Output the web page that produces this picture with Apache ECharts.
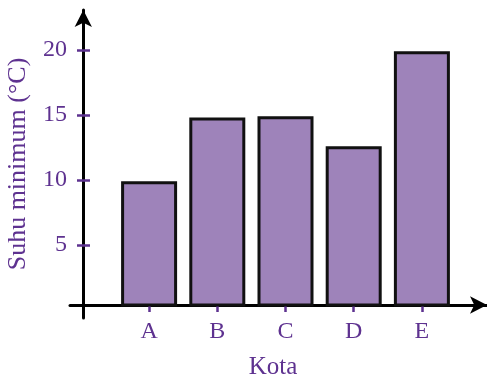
<!DOCTYPE html>
<html>
<head>
<meta charset="utf-8">
<script src="https://cdn.jsdelivr.net/npm/echarts@6/dist/echarts.min.js"></script>
<style>html,body{margin:0;padding:0;background:#fff}#c{width:487px;height:380px}</style>
</head>
<body>
<div id="c"></div>
<script>
const categories = ['A', 'B', 'C', 'D', 'E'];
const minTemps = [9.9, 14.8, 14.9, 12.6, 19.9];
const yTicks = [5, 10, 15, 20];
const xTitle = 'Kota';
const yTitle = 'Suhu minimum (°C)';

const PURPLE = '#5e3290';
const BAR = '#9e83ba';
const FONT = 'Liberation Serif';
const AXIS_BASE = 5 / 13; // x-axis line sits slightly above value 0

const chart = echarts.init(document.getElementById('c'));
chart.setOption({
  animation: false,
  grid: [
    { left: 115, right: 31, top: 50, bottom: 75, outerBoundsMode: 'none', containLabel: false },
    { left: 70, right: 0, top: 10, bottom: 62, outerBoundsMode: 'none', containLabel: false }
  ],
  xAxis: [
    {
      gridIndex: 0, type: 'category', data: categories,
      axisLine: { show: false },
      axisTick: { show: true, alignWithLabel: true, length: 7, lineStyle: { color: PURPLE, width: 2.5 } },
      axisLabel: { color: PURPLE, fontFamily: FONT, fontSize: 24, margin: 15 },
      name: xTitle, nameLocation: 'middle', nameGap: 50,
      nameTextStyle: { color: PURPLE, fontFamily: FONT, fontSize: 25, padding: [0, 25, 0, 0] }
    },
    {
      gridIndex: 1, type: 'value', min: 0, max: 1, offset: -13,
      axisLine: { show: true, onZero: false, symbol: ['none', 'arrow'], symbolSize: [13, 17], lineStyle: { color: '#000', width: 3 } },
      axisTick: { show: false }, axisLabel: { show: false }, splitLine: { show: false }
    }
  ],
  yAxis: [
    {
      gridIndex: 0, type: 'value', min: AXIS_BASE, max: 20, position: 'left', offset: 25,
      axisLine: { show: false },
      axisTick: { show: true, length: 13, customValues: yTicks, lineStyle: { color: PURPLE, width: 2.5 } },
      axisLabel: { color: PURPLE, fontFamily: FONT, fontSize: 24, margin: 23, customValues: yTicks },
      splitLine: { show: false }
    },
    {
      gridIndex: 1, type: 'value', min: 0, max: 1, position: 'left', offset: -13.3,
      axisLine: { show: true, onZero: false, symbol: ['none', 'arrow'], symbolSize: [13, 17], lineStyle: { color: '#000', width: 3 } },
      axisTick: { show: false }, axisLabel: { show: false }, splitLine: { show: false },
      name: yTitle, nameLocation: 'middle', nameRotate: 90, nameGap: 52,
      nameTextStyle: { color: PURPLE, fontFamily: FONT, fontSize: 26 }
    }
  ],
  series: [
    {
      type: 'bar', xAxisIndex: 0, yAxisIndex: 0, data: minTemps,
      barWidth: 56,
      itemStyle: { color: BAR, borderColor: '#111', borderWidth: 3 }
    }
  ]
});
</script>
</body>
</html>
